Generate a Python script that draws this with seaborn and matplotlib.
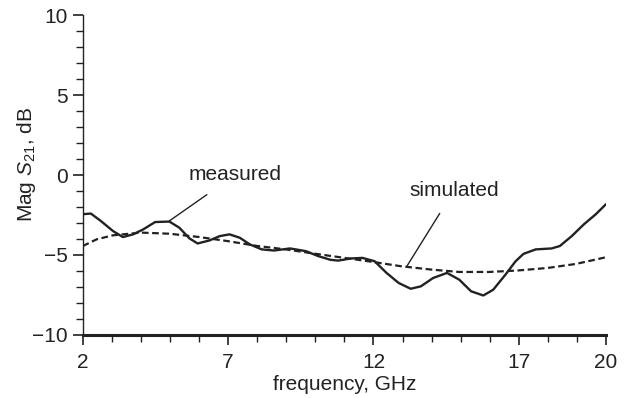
import pandas as pd
import matplotlib.pyplot as plt
import seaborn as sns
from matplotlib.ticker import MultipleLocator

# Measured S21 (solid line)
meas_freq = [2.0, 2.28, 2.62, 3.04, 3.38, 3.73, 4.08, 4.49, 4.98, 5.32, 5.67, 5.95, 6.36,
             6.71, 7.05, 7.4, 7.75, 8.16, 8.58, 9.13, 9.68, 10.1, 10.52, 10.79, 11.21,
             11.62, 12.04, 12.45, 12.87, 13.28, 13.63, 14.05, 14.53, 14.95, 15.36, 15.78,
             16.12, 16.54, 16.89, 17.16, 17.58, 18.13, 18.41, 18.82, 19.24, 19.65, 20.0]
meas_db = [-2.45, -2.41, -2.87, -3.5, -3.88, -3.71, -3.4, -2.94, -2.91, -3.29, -3.96,
           -4.28, -4.09, -3.82, -3.71, -3.92, -4.34, -4.65, -4.72, -4.59, -4.76, -5.07,
           -5.3, -5.35, -5.22, -5.18, -5.39, -6.12, -6.75, -7.11, -6.96, -6.44, -6.12,
           -6.54, -7.27, -7.53, -7.17, -6.23, -5.39, -4.93, -4.65, -4.59, -4.44, -3.82,
           -3.08, -2.45, -1.82]

# Simulated S21 (dashed line)
sim_freq = [2, 2.48, 3.04, 4, 4.98, 6.02, 6.98, 8.02, 8.99, 10.03, 11, 11.97, 12.94,
            13.98, 14.95, 15.98, 16.95, 17.99, 18.96, 20]
sim_db = [-4.44, -4.02, -3.77, -3.6, -3.67, -3.88, -4.13, -4.44, -4.65, -4.93, -5.18,
          -5.43, -5.7, -5.91, -6.06, -6.06, -5.97, -5.81, -5.56, -5.14]

x_ticks = [2, 7, 12, 17, 20]
y_ticks = [-10, -5, 0, 5, 10]
y_tick_labels = ['\u221210', '\u22125', '0', '5', '10']

sns.set_style("ticks")
plt.rcParams['font.family'] = ['Liberation Sans', 'DejaVu Sans']
plt.rcParams['mathtext.fontset'] = 'custom'
plt.rcParams['mathtext.rm'] = 'Liberation Sans'
plt.rcParams['mathtext.it'] = 'Liberation Sans:italic'

ink = '#222222'
fig = plt.figure(figsize=(6.32, 3.98), dpi=100)
ax = fig.add_axes([0.1309, 0.1583, 0.828, 0.804])

meas = pd.DataFrame({'freq': meas_freq, 'db': meas_db})
sim = pd.DataFrame({'freq': sim_freq, 'db': sim_db})
sns.lineplot(data=meas, x='freq', y='db', ax=ax, color=ink, lw=1.7)
sns.lineplot(data=sim, x='freq', y='db', ax=ax, color=ink, lw=1.6, linestyle=(0, (3, 1.6)))

ax.set_xlim(2, 20)
ax.set_ylim(-10, 10)
ax.set_xticks(x_ticks)
ax.set_yticks(y_ticks)
ax.set_yticklabels(y_tick_labels)
ax.xaxis.set_minor_locator(MultipleLocator(1))
ax.yaxis.set_minor_locator(MultipleLocator(1))
ax.tick_params(which='major', length=7, width=1.2, color=ink, labelsize=15, labelcolor=ink, pad=4)
ax.tick_params(axis='x', which='major', pad=6)
ax.tick_params(which='minor', length=5, width=1.0, color=ink)

sns.despine(ax=ax)
ax.spines['left'].set_linewidth(1.0)
ax.spines['bottom'].set_linewidth(2.2)
for s in ('left', 'bottom'):
    ax.spines[s].set_color(ink)

ax.set_xlabel('frequency, GHz', fontsize=15, color=ink, labelpad=2)
ax.set_ylabel('Mag $S_{21}$, dB', fontsize=15, color=ink)
ax.yaxis.set_label_coords(-0.085, 0.534)

ax.annotate('measured', xy=(4.98, -2.87), xytext=(7.25, 0.02), fontsize=15, color=ink,
            ha='center', va='center',
            arrowprops=dict(arrowstyle='-', color=ink, lw=1.0, shrinkA=9, shrinkB=0))
ax.annotate('simulated', xy=(13.15, -5.7), xytext=(14.78, -0.94), fontsize=15, color=ink,
            ha='center', va='center',
            arrowprops=dict(arrowstyle='-', color=ink, lw=1.0, shrinkA=9, shrinkB=0))

fig.savefig('out.png', dpi=100)
